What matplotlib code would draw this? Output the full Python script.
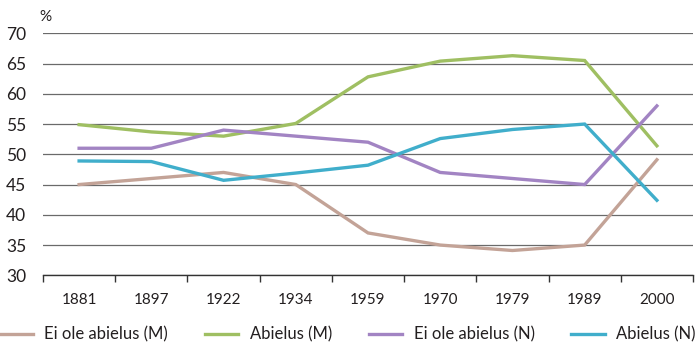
import matplotlib
matplotlib.use('Agg')
import matplotlib.pyplot as plt
import numpy as np

years = ["1881", "1897", "1922", "1934", "1959", "1970", "1979", "1989", "2000"]
ei_abielus_m = [45.0, 46.0, 47.0, 45.0, 37.0, 35.0, 34.1, 35.0, 49.1]
abielus_m = [54.9, 53.7, 53.0, 55.1, 62.8, 65.4, 66.3, 65.5, 51.4]
ei_abielus_n = [51.0, 51.0, 54.0, 53.0, 52.0, 47.0, 46.0, 45.0, 58.0]
abielus_n = [48.9, 48.8, 45.7, 46.9, 48.2, 52.6, 54.1, 55.0, 42.4]

series = [
    ("Ei ole abielus (M)", ei_abielus_m, "#c3a397"),
    ("Abielus (M)", abielus_m, "#9fbf62"),
    ("Ei ole abielus (N)", ei_abielus_n, "#a284c3"),
    ("Abielus (N)", abielus_n, "#40aecb"),
]

plt.rcParams['font.family'] = ['Lato', 'DejaVu Sans']

fig = plt.figure(figsize=(6.95, 3.44), dpi=100)
ax = fig.add_axes([43 / 695, 1 - 275.3 / 344, 650 / 695, 242 / 344])

x = np.arange(len(years))
for label, vals, color in series:
    ax.plot(x, vals, color=color, lw=2.4, label=label, solid_joinstyle='miter')

ax.set_ylim(30, 70)
ax.set_xlim(-0.5, len(years) - 0.5)
ax.set_yticks(range(30, 71, 5))
ax.yaxis.grid(True, color='#6a6a6a', lw=0.9)
ax.set_axisbelow(True)
ax.tick_params(axis='y', length=0, pad=12, labelsize=12.5, colors='#231f20')

# ticks sit between categories, labels centred under each point
ax.set_xticks(np.arange(len(years) + 1) - 0.5)
ax.set_xticklabels([])
ax.set_xticks(x, minor=True)
ax.set_xticklabels(years, minor=True)
ax.tick_params(axis='x', which='major', length=5, width=1, color='#333333')
ax.tick_params(axis='x', which='minor', length=0, pad=13, labelsize=11, colors='#231f20')

for s in ['left', 'right', 'top']:
    ax.spines[s].set_visible(False)
ax.spines['bottom'].set_color('#333333')
ax.spines['bottom'].set_linewidth(1)

ax.text(-0.005, 1.04, "%", transform=ax.transAxes, fontsize=11, color='#231f20',
        ha='left', va='bottom')

fig.legend(loc='lower center', bbox_to_anchor=(0.5, -0.04), ncol=4, frameon=False,
           fontsize=12, handlelength=2.0, handletextpad=0.7, columnspacing=2.2,
           labelcolor='#231f20')

fig.savefig("out.png", dpi=100)
